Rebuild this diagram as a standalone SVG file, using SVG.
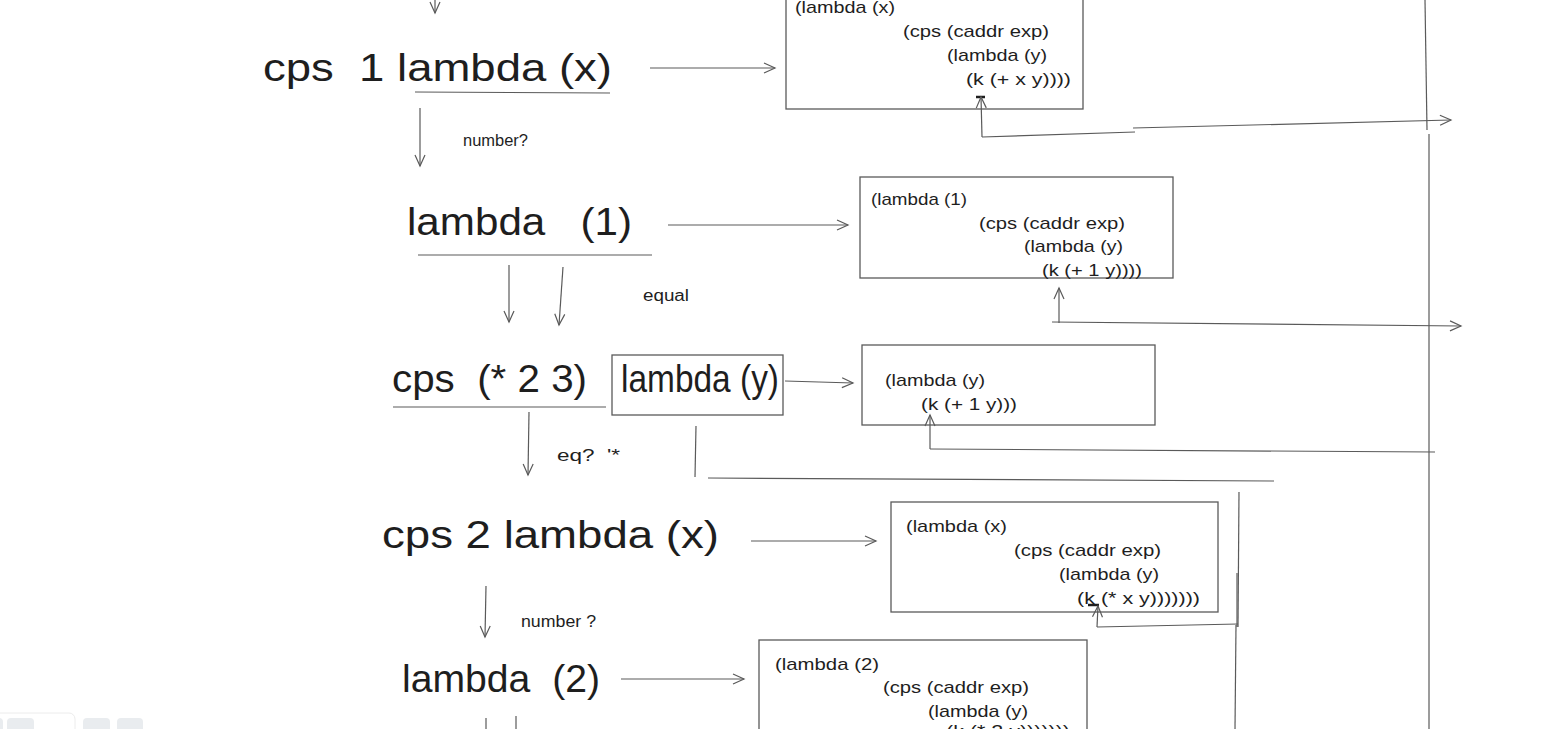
<svg xmlns="http://www.w3.org/2000/svg" width="1551" height="729" viewBox="0 0 1551 729">
<style>
text{white-space:pre}
.big{font-family:"Liberation Sans","DejaVu Sans",sans-serif;font-size:38px;fill:#1e1e1e}
.code{font-family:"Liberation Sans","DejaVu Sans",sans-serif;font-size:17px;fill:#1e1e1e}
.lbl{font-family:"Liberation Sans","DejaVu Sans",sans-serif;font-size:16px;fill:#1e1e1e}
.box{fill:none;stroke:#5a5a5a;stroke-width:1.3}
.ln{fill:none;stroke:#5a5a5a;stroke-width:1.2}
.ar{fill:none;stroke:#5a5a5a;stroke-width:1.2;marker-end:url(#ah)}
.mark{stroke:#1e1e1e;stroke-width:2.5}
</style>
<defs>
<marker id="ah" markerWidth="14" markerHeight="14" refX="12" refY="6" orient="auto" markerUnits="userSpaceOnUse">
<path d="M1,1 L12,6 L1,11" fill="none" stroke="#5a5a5a" stroke-width="1.2"/>
</marker>
</defs>
<rect width="1551" height="729" fill="#ffffff"/>

<g id="ui">
<rect x="-6" y="713" width="81" height="30" rx="6" fill="#ffffff" stroke="#ececec"/>
<rect x="-6" y="718" width="9" height="20" rx="4" fill="#e9ecef"/>
<rect x="7" y="718" width="27" height="20" rx="4" fill="#e9ecef"/>
<rect x="83" y="718" width="27" height="20" rx="4" fill="#e9ecef"/>
<rect x="117" y="718" width="26" height="20" rx="4" fill="#e9ecef"/>
</g>

<g id="n1">
<text class="big" xml:space="preserve" x="263" y="81" textLength="349" lengthAdjust="spacingAndGlyphs">cps  1 lambda (x)</text>
<line class="ln" x1="415" y1="92" x2="610" y2="93"/>
</g>
<g id="b1">
<rect class="box" x="786" y="-10" width="297" height="119"/>
<text class="code" x="795" y="13" textLength="100" lengthAdjust="spacingAndGlyphs">(lambda (x)</text>
<text class="code" x="903" y="37" textLength="146" lengthAdjust="spacingAndGlyphs">(cps (caddr exp)</text>
<text class="code" x="947" y="61" textLength="100" lengthAdjust="spacingAndGlyphs">(lambda (y)</text>
<text class="code" x="966" y="85" textLength="105" lengthAdjust="spacingAndGlyphs">(k (+ x y))))</text>
<line class="mark" x1="976" y1="97" x2="985" y2="97"/>
</g>

<g id="n2">
<text class="big" xml:space="preserve" x="407" y="235" textLength="225" lengthAdjust="spacingAndGlyphs">lambda   (1)</text>
<line class="ln" x1="418" y1="255" x2="652" y2="255"/>
</g>
<g id="b2">
<rect class="box" x="860" y="177" width="313" height="101"/>
<text class="code" x="871" y="205" textLength="96" lengthAdjust="spacingAndGlyphs">(lambda (1)</text>
<text class="code" x="979" y="229" textLength="146" lengthAdjust="spacingAndGlyphs">(cps (caddr exp)</text>
<text class="code" x="1024" y="252" textLength="99" lengthAdjust="spacingAndGlyphs">(lambda (y)</text>
<text class="code" x="1042" y="276" textLength="100" lengthAdjust="spacingAndGlyphs">(k (+ 1 y))))</text>
</g>

<g id="n3">
<text class="big" xml:space="preserve" x="392" y="392" textLength="195" lengthAdjust="spacingAndGlyphs">cps  (* 2 3)</text>
<line class="ln" x1="393" y1="407" x2="606" y2="407"/>
</g>
<g id="n3b">
<rect class="box" x="612" y="355" width="171" height="60"/>
<text class="big" x="621" y="392" font-size="35" textLength="158" lengthAdjust="spacingAndGlyphs">lambda (y)</text>
</g>
<g id="b3">
<rect class="box" x="862" y="345" width="293" height="80"/>
<text class="code" x="885" y="386" textLength="100" lengthAdjust="spacingAndGlyphs">(lambda (y)</text>
<text class="code" x="921" y="410" textLength="96" lengthAdjust="spacingAndGlyphs">(k (+ 1 y)))</text>
</g>

<g id="n4">
<text class="big" x="382" y="548" textLength="337" lengthAdjust="spacingAndGlyphs">cps 2 lambda (x)</text>
</g>
<g id="b4">
<rect class="box" x="891" y="502" width="327" height="110"/>
<text class="code" x="906" y="532" textLength="101" lengthAdjust="spacingAndGlyphs">(lambda (x)</text>
<text class="code" x="1014" y="556" textLength="147" lengthAdjust="spacingAndGlyphs">(cps (caddr exp)</text>
<text class="code" x="1059" y="580" textLength="100" lengthAdjust="spacingAndGlyphs">(lambda (y)</text>
<text class="code" x="1077" y="604" textLength="123" lengthAdjust="spacingAndGlyphs">(k (* x y)))))))</text>
<line class="mark" x1="1088" y1="605" x2="1099" y2="605"/>
</g>

<g id="n5">
<text class="big" xml:space="preserve" x="402" y="692" textLength="198" lengthAdjust="spacingAndGlyphs">lambda  (2)</text>
</g>
<g id="b5">
<rect class="box" x="759" y="640" width="328" height="100"/>
<text class="code" x="775" y="670" textLength="104" lengthAdjust="spacingAndGlyphs">(lambda (2)</text>
<text class="code" x="883" y="693" textLength="146" lengthAdjust="spacingAndGlyphs">(cps (caddr exp)</text>
<text class="code" x="928" y="717" textLength="100" lengthAdjust="spacingAndGlyphs">(lambda (y)</text>
<text class="code" x="946" y="737" textLength="124" lengthAdjust="spacingAndGlyphs">(k (* 2 y)))))))</text>
</g>

<g id="labels">
<text class="lbl" x="463" y="146" textLength="65" lengthAdjust="spacingAndGlyphs">number?</text>
<text class="lbl" x="643" y="301" textLength="46" lengthAdjust="spacingAndGlyphs">equal</text>
<text class="lbl" xml:space="preserve" x="557" y="461" textLength="63" lengthAdjust="spacingAndGlyphs">eq?  '*</text>
<text class="lbl" x="521" y="627" textLength="75" lengthAdjust="spacingAndGlyphs">number ?</text>
</g>

<g id="connectors">
<path class="ar" d="M435,-5 L435,13"/>
<path class="ar" d="M650,68 L775,68"/>
<path class="ar" d="M420,108 L420,166"/>
<path class="ar" d="M668,225 L848,225"/>
<path class="ar" d="M509,265 L509,322"/>
<path class="ar" d="M563,267 L559,325"/>
<path class="ar" d="M785,381 L853,383"/>
<path class="ar" d="M529,412 L528,475"/>
<path class="ar" d="M751,541 L876,541"/>
<path class="ar" d="M486,586 L485,637"/>
<path class="ar" d="M621,679 L744,679"/>
<line class="ln" x1="486" y1="718" x2="486" y2="729"/>
<line class="ln" x1="516" y1="716" x2="516" y2="729"/>

<path class="ar" d="M982,137 L981,97"/>
<path class="ln" d="M982,137 L1135,132"/>
<path class="ar" d="M1133,128 L1451,120"/>
<line class="ln" x1="1425" y1="0" x2="1427" y2="130"/>
<line class="ln" x1="1429" y1="134" x2="1429" y2="729"/>

<path class="ar" d="M1059,323 L1059,288"/>
<path class="ar" d="M1052,322 L1461,326"/>

<path class="ar" d="M930,449 L930,415"/>
<path class="ln" d="M930,449 L1435,452"/>

<line class="ln" x1="696" y1="426" x2="695" y2="477"/>
<line class="ln" x1="708" y1="478" x2="1274" y2="481"/>

<line class="ln" x1="1239" y1="492" x2="1238" y2="627"/>
<line class="ln" x1="1237" y1="573" x2="1237" y2="627" stroke-width="2"/>
<path class="ln" d="M1238,624 L1097,627"/>
<path class="ar" d="M1097,627 L1098,606"/>
<line class="ln" x1="1236" y1="625" x2="1235" y2="729"/>
</g>
</svg>
